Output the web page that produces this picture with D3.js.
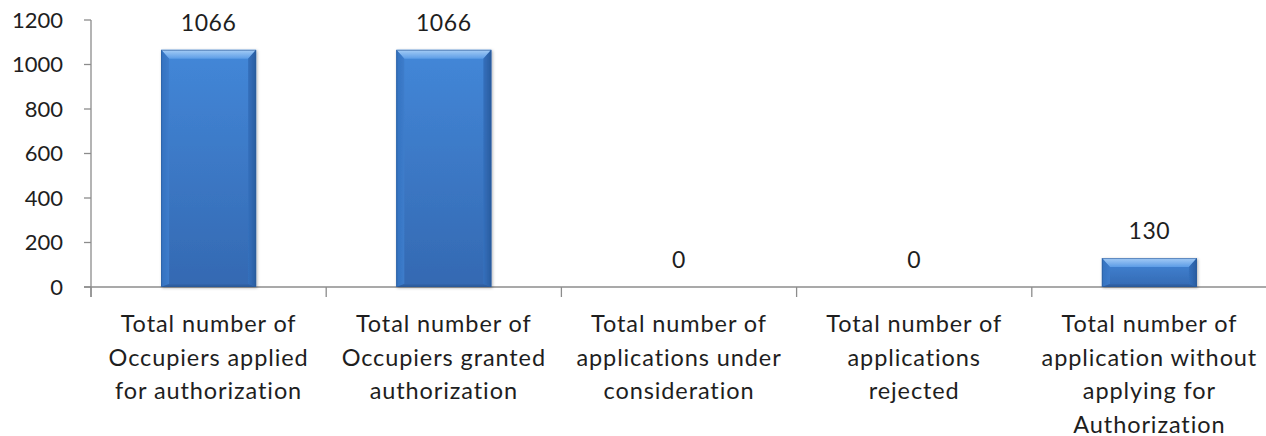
<!DOCTYPE html>
<html>
<head>
<meta charset="utf-8">
<script src="https://cdn.jsdelivr.net/npm/d3@7"></script>
<style>
  html, body { margin: 0; padding: 0; background: #fff; }
  svg { display: block; }
  text { font-family: Lato, "Open Sans", sans-serif; fill: #1e1e1e; }
</style>
</head>
<body>
<svg id="chart" width="1266" height="436"></svg>
<script>
// Authorization status counts
const categories = [
  ["Total number of", "Occupiers applied", "for authorization"],
  ["Total number of", "Occupiers granted", "authorization"],
  ["Total number of", "applications under", "consideration"],
  ["Total number of", "applications", "rejected"],
  ["Total number of", "application without", "applying for", "Authorization"]
];
const values = [1066, 1066, 0, 0, 130];
const yTicks = [0, 200, 400, 600, 800, 1000, 1200];

const W = 1266, H = 436;
const margin = { left: 91, right: -1, top: 20, bottom: 149 };
const baseY = H - margin.bottom;

const svg = d3.select("#chart");
const defs = svg.append("defs");

const x = d3.scaleBand()
  .domain(d3.range(values.length))
  .range([margin.left, W - margin.right])
  .padding(0);

const y = d3.scaleLinear()
  .domain([0, 1200])
  .range([baseY, margin.top]);

const barW = x.bandwidth() * 0.404;
const axisColor = "#8c8c8c";

// gradients for the bevelled bars
function linGrad(id, x1, y1, x2, y2, stops) {
  const g = defs.append("linearGradient").attr("id", id)
    .attr("x1", x1).attr("y1", y1).attr("x2", x2).attr("y2", y2);
  stops.forEach(([o, c]) => g.append("stop").attr("offset", o).attr("stop-color", c));
}
linGrad("face", 0, 0, 0, 1, [[0, "#4387d8"], [1, "#3469b2"]]);
linGrad("bevTop", 0, 0, 0, 1, [[0, "#a6cdf6"], [1, "#5b9ce6"]]);
linGrad("bevLeft", 0, 0, 1, 0, [[0, "#3472bf"], [1, "#3d7ccb"]]);
linGrad("bevRight", 0, 0, 1, 0, [[0, "#3470bd"], [1, "#2a5c9f"]]);
linGrad("bevBot", 0, 0, 0, 1, [[0, "#3366ad"], [1, "#285795"]]);

const shadow = defs.append("filter").attr("id", "shadow")
  .attr("x", "-10%").attr("y", "-10%").attr("width", "120%").attr("height", "120%");
shadow.append("feDropShadow").attr("dx", 1).attr("dy", 1)
  .attr("stdDeviation", 1.5).attr("flood-color", "#000").attr("flood-opacity", 0.3);

// y axis
const yAxis = svg.append("g");
yAxis.append("line")
  .attr("x1", margin.left).attr("x2", margin.left)
  .attr("y1", y(1200)).attr("y2", baseY + 10)
  .attr("stroke", axisColor).attr("stroke-width", 1.3);
yAxis.selectAll(".ytick").data(yTicks).join("line")
  .attr("x1", margin.left - 7).attr("x2", margin.left)
  .attr("y1", d => y(d)).attr("y2", d => y(d))
  .attr("stroke", axisColor).attr("stroke-width", 1.3);
yAxis.selectAll(".ylab").data(yTicks).join("text")
  .attr("x", 63).attr("y", d => y(d))
  .attr("dy", "0.36em")
  .attr("text-anchor", "end")
  .attr("font-size", 22)
  .text(d => d);

// x axis
const xAxis = svg.append("g");
xAxis.append("line")
  .attr("x1", margin.left - 7).attr("x2", W)
  .attr("y1", baseY).attr("y2", baseY)
  .attr("stroke", axisColor).attr("stroke-width", 1.3);
xAxis.selectAll(".xtick").data(d3.range(values.length + 1)).join("line")
  .attr("x1", i => margin.left + i * x.step())
  .attr("x2", i => margin.left + i * x.step())
  .attr("y1", baseY).attr("y2", baseY + 10)
  .attr("stroke", axisColor).attr("stroke-width", 1.3);

const catLabels = xAxis.selectAll(".cat").data(categories).join("text")
  .attr("text-anchor", "middle")
  .attr("font-size", 23.5)
  .attr("letter-spacing", 0.9)
  .attr("transform", (d, i) => `translate(${x(i) + x.bandwidth() / 2},${baseY + 45})`);
catLabels.selectAll("tspan").data(d => d).join("tspan")
  .attr("x", 0).attr("y", (d, j) => j * 33.5)
  .text(d => d);

// bars
const bevX = 8, bevY = 9;
const bars = svg.selectAll(".bar").data(values).join("g")
  .attr("filter", "url(#shadow)")
  .each(function (v, i) {
    if (v <= 0) return;
    const g = d3.select(this);
    const x0 = x(i) + (x.bandwidth() - barW) / 2, x1 = x0 + barW;
    const y0 = y(v), y1 = y(0);
    const by = Math.min(bevY, (y1 - y0) / 2), bx = bevX;
    g.append("rect").attr("x", x0).attr("y", y0).attr("width", barW).attr("height", y1 - y0)
      .attr("fill", "url(#face)");
    const poly = (pts, fill) => g.append("polygon")
      .attr("points", pts.map(p => p.join(",")).join(" ")).attr("fill", fill);
    poly([[x0, y0], [x1, y0], [x1 - bx, y0 + by], [x0 + bx, y0 + by]], "url(#bevTop)");
    poly([[x0, y0], [x0 + bx, y0 + by], [x0 + bx, y1 - 3], [x0, y1]], "url(#bevLeft)");
    poly([[x1, y0], [x1 - bx, y0 + by], [x1 - bx, y1 - 3], [x1, y1]], "url(#bevRight)");
    poly([[x0, y1], [x0 + bx, y1 - 3], [x1 - bx, y1 - 3], [x1, y1]], "url(#bevBot)");
    g.append("rect").attr("x", x0 + 0.5).attr("y", y0 + 0.5).attr("width", barW - 1).attr("height", y1 - y0 - 1)
      .attr("fill", "none").attr("stroke", "#2b5a9a").attr("stroke-opacity", 0.6);
  });

// value labels
svg.selectAll(".val").data(values).join("text")
  .attr("x", (d, i) => x(i) + x.bandwidth() / 2)
  .attr("y", d => y(d) - 19)
  .attr("text-anchor", "middle")
  .attr("font-size", 23)
  .attr("letter-spacing", 0.6)
  .text(d => d);
</script>
</body>
</html>
